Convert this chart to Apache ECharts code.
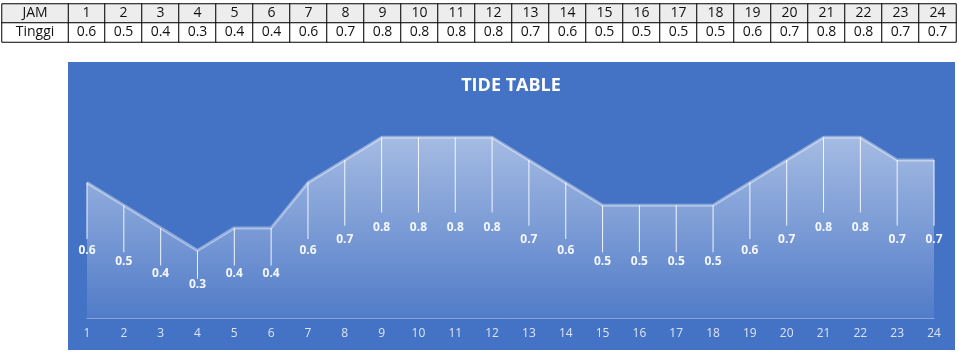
<!DOCTYPE html>
<html>
<head>
<meta charset="utf-8">
<script src="https://cdn.jsdelivr.net/npm/echarts@6/dist/echarts.min.js"></script>
<style>
html,body{margin:0;padding:0;background:#fff;}
#c{width:959px;height:356px;}
</style>
</head>
<body>
<div id="c"></div>
<script>
// ---- data ----
const hours = [1,2,3,4,5,6,7,8,9,10,11,12,13,14,15,16,17,18,19,20,21,22,23,24];
const tinggi = [0.6,0.5,0.4,0.3,0.4,0.4,0.6,0.7,0.8,0.8,0.8,0.8,0.7,0.6,0.5,0.5,0.5,0.5,0.6,0.7,0.8,0.8,0.7,0.7];
const rowNames = ['Tinggi','JAM'];
const chartTitle = 'TIDE TABLE';

const hourLabels = hours.map(String);
const tableFont = '"Open Sans", "Liberation Sans", sans-serif';

// table cells (heatmap)
const headerCells = [];
const tableCells = [];
hours.forEach((h, i) => {
  tableCells.push({value: [i, 1, h], itemStyle: {color: '#EDEDED'}});
  tableCells.push({value: [i, 0, tinggi[i]], itemStyle: {color: '#FFFFFF'}});
});
headerCells.push({value: [0, 1, 1], itemStyle: {color: '#EDEDED'}});
headerCells.push({value: [0, 0, 0], itemStyle: {color: '#FFFFFF'}});

const chart = echarts.init(document.getElementById('c'), null, {renderer: 'canvas'});
chart.setOption({
  animation: false,
  backgroundColor: '#ffffff',
  graphic: [
    {type: 'rect', z: -10, silent: true, shape: {x: 68, y: 62, width: 887, height: 288}, style: {fill: '#4472C4'}},
    {type: 'text', z: 10, x: 511, y: 86, style: {text: chartTitle, align: 'center', verticalAlign: 'middle', fill: '#ffffff', font: 'bold 18px "Open Sans", "Liberation Sans", sans-serif'}}
  ],
  grid: [
    {left: 87, right: 25, top: 92, bottom: 37.5},
    {left: 68, top: 4, width: 888, height: 38},
    {left: 2, top: 4, width: 66, height: 38}
  ],
  xAxis: [
    {gridIndex: 0, type: 'category', data: hourLabels, boundaryGap: false,
     axisLine: {lineStyle: {color: 'rgba(255,255,255,0.35)', width: 1}},
     axisTick: {show: false},
     axisLabel: {color: '#dce5f5', fontSize: 12, margin: 9, fontFamily: tableFont},
     splitLine: {show: false}},
    {gridIndex: 1, type: 'category', data: hourLabels, show: false},
    {gridIndex: 2, type: 'category', data: ['h'], show: false}
  ],
  yAxis: [
    {gridIndex: 0, type: 'value', min: 0, max: 1, show: false},
    {gridIndex: 1, type: 'category', data: rowNames, show: false},
    {gridIndex: 2, type: 'category', data: rowNames, show: false}
  ],
  series: [
    {
      type: 'line', xAxisIndex: 0, yAxisIndex: 0, data: tinggi, symbol: 'none', z: 2,
      lineStyle: {color: 'rgba(255,255,255,0.4)', width: 3},
      areaStyle: {color: new echarts.graphic.LinearGradient(0, 0, 0, 1, [
        {offset: 0, color: 'rgba(255,255,255,0.74)'},
        {offset: 0.5, color: 'rgba(255,255,255,0.42)'},
        {offset: 1, color: 'rgba(255,255,255,0.1)'}
      ])}
    },
    {
      type: 'bar', xAxisIndex: 0, yAxisIndex: 0, data: tinggi, barWidth: 1, z: 3,
      itemStyle: {color: new echarts.graphic.LinearGradient(0, 0, 0, 1, [
        {offset: 0, color: 'rgba(255,255,255,0.9)'},
        {offset: 0.41, color: 'rgba(255,255,255,0.9)'},
        {offset: 0.42, color: 'rgba(255,255,255,0)'},
        {offset: 1, color: 'rgba(255,255,255,0)'}
      ])},
      label: {show: true, position: 'inside', color: '#f4f7fc', fontSize: 12, fontWeight: 'bold', fontFamily: tableFont,
        formatter: p => p.value.toFixed(1)}
    },
    {
      type: 'heatmap', xAxisIndex: 1, yAxisIndex: 1, data: tableCells,
      itemStyle: {borderColor: '#000', borderWidth: 1},
      label: {show: true, color: '#111', fontSize: 14, fontFamily: tableFont,
        formatter: p => p.value[1] === 1 ? String(p.value[2]) : p.value[2].toFixed(1)}
    },
    {
      type: 'heatmap', xAxisIndex: 2, yAxisIndex: 2, data: headerCells,
      itemStyle: {borderColor: '#000', borderWidth: 1},
      label: {show: true, color: '#111', fontSize: 14, fontFamily: tableFont,
        formatter: p => rowNames[p.value[1]]}
    }
  ]
});
</script>
</body>
</html>
